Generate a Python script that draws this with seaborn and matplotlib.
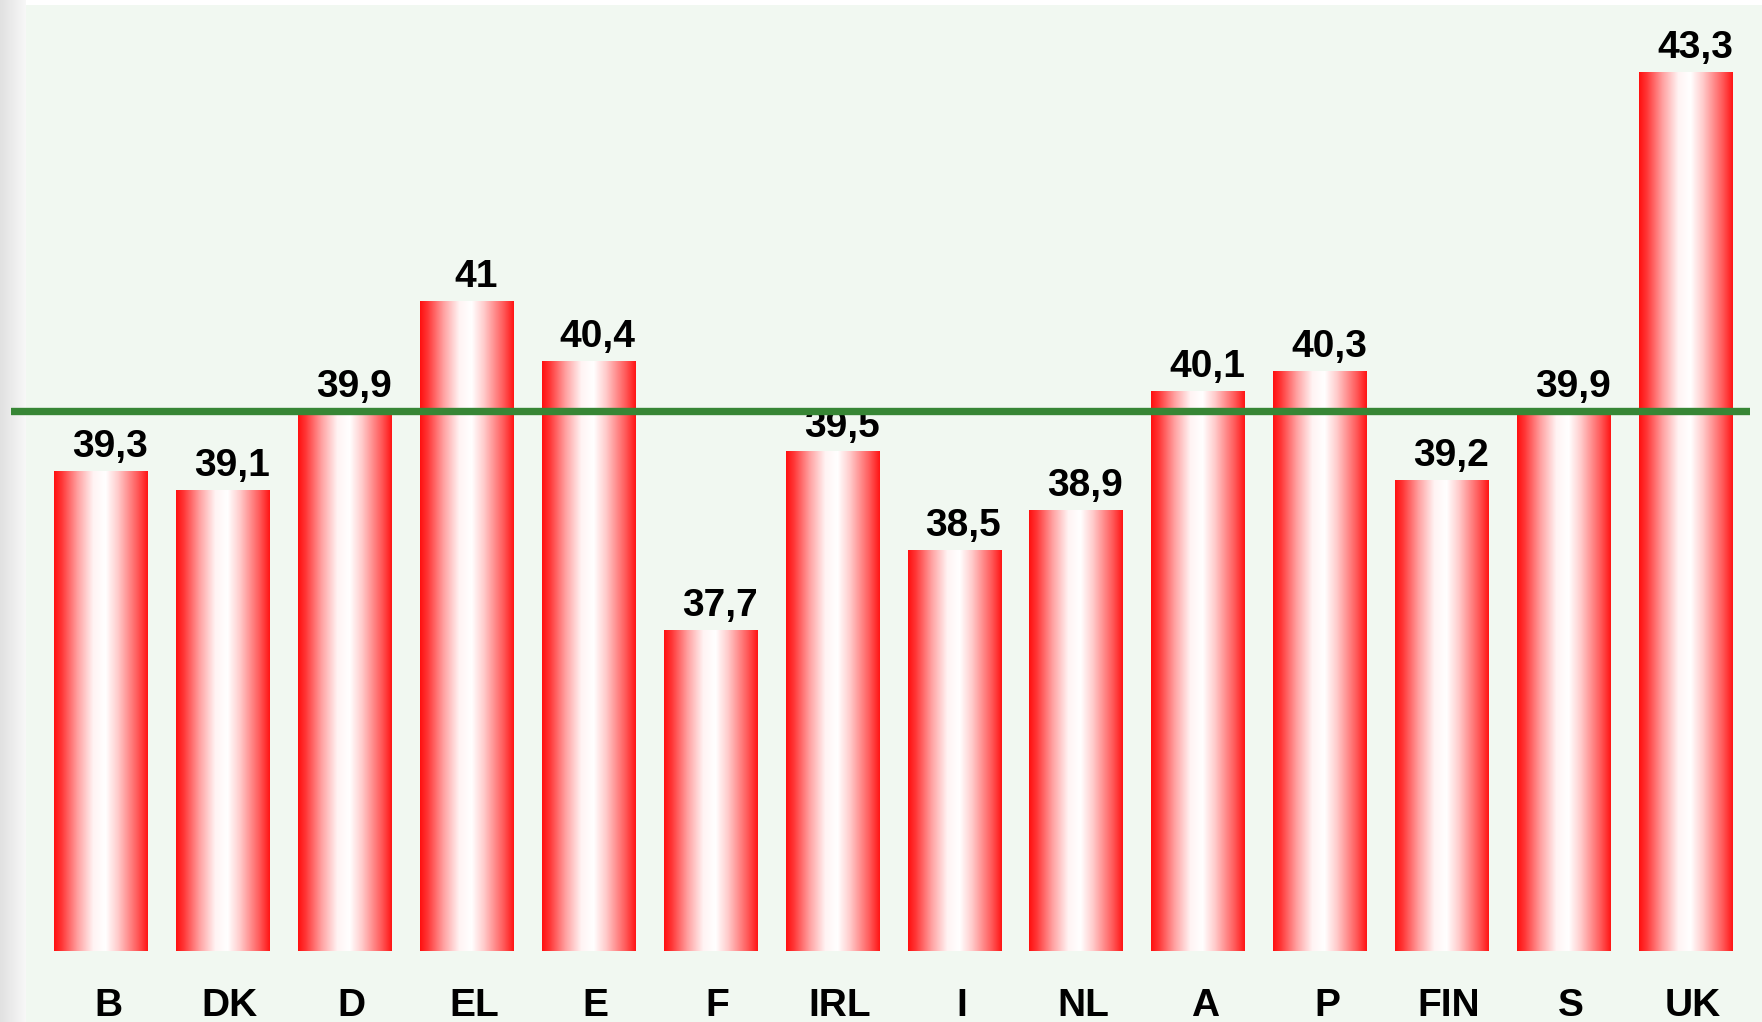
import numpy as np
import pandas as pd
import seaborn as sns
import matplotlib
matplotlib.use("Agg")
import matplotlib.pyplot as plt
from matplotlib.colors import LinearSegmentedColormap
from matplotlib.patches import Rectangle
from matplotlib.transforms import ScaledTranslation

countries = ["B", "DK", "D", "EL", "E", "F", "IRL", "I", "NL", "A", "P", "FIN", "S", "UK"]
hours = [39.3, 39.1, 39.9, 41.0, 40.4, 37.7, 39.5, 38.5, 38.9, 40.1, 40.3, 39.2, 39.9, 43.3]
labels = ["39,3", "39,1", "39,9", "41", "40,4", "37,7", "39,5", "38,5", "38,9", "40,1", "40,3", "39,2", "39,9", "43,3"]
average = 39.9

W, H = 1762, 1022
BG = "#f1f8f1"

sns.set_theme(style="white")
plt.rcParams["font.family"] = ["Liberation Sans", "DejaVu Sans"]

fig = plt.figure(figsize=(W / 100, H / 100), dpi=100, facecolor="white")

# page background + grey strip on the left
fig.patches.append(Rectangle((26 / W, 0), 1 - 26 / W, 1 - 5 / H, transform=fig.transFigure,
                             facecolor=BG, edgecolor="none", zorder=-10))
strip = fig.add_axes([0, 0, 26 / W, 1])
strip.imshow(np.linspace(0.88, 0.97, 64).reshape(1, -1), cmap="gray", vmin=0, vmax=1,
             aspect="auto", extent=[0, 1, 0, 1])
strip.axis("off")

ax = fig.add_axes([11 / W, (H - 951) / H, (1750 - 11) / W, (951 - 5) / H])
ax.set_facecolor("none")

df = pd.DataFrame({"country": countries, "hours": hours})
sns.barplot(data=df, x="country", y="hours", width=0.77, color="red", ax=ax, zorder=2)

cmap = LinearSegmentedColormap.from_list("redwhite", [
    (0.0, "#ff1010"), (0.08, "#ff3535"), (0.25, "#ffa0a0"), (0.42, "#fff4f4"),
    (0.55, "#ffffff"), (0.68, "#ffcccc"), (0.9, "#ff5555"), (1.0, "#ff1515")])
grad = np.linspace(0, 1, 256).reshape(1, -1)

ymin, ymax = 34.48, 43.97
for bar in ax.patches:
    x0, w, h = bar.get_x(), bar.get_width(), bar.get_height()
    bar.set_facecolor("none")
    bar.set_edgecolor("none")
    im = ax.imshow(grad, cmap=cmap, aspect="auto", extent=[x0, x0 + w, ymin, h], zorder=2)
    im.set_clip_path(bar)

for i, (v, lab) in enumerate(zip(hours, labels)):
    ax.annotate(lab, (i, v), xytext=(9 * 0.72, 14 * 0.72), textcoords="offset points",
                ha="center", va="baseline", fontsize=28, fontweight="bold", color="black", zorder=3)

ax.axhline(average, color="#378635", linewidth=5.3, zorder=4)

ax.set_xlim(-0.738, 13.525)
ax.set_ylim(ymin, ymax)
ax.set_xlabel("")
ax.set_ylabel("")
ax.set_yticks([])
ax.tick_params(axis="x", length=0, pad=26.5, labelsize=28)
shift = ScaledTranslation(7 / 100, 0, fig.dpi_scale_trans)
for t in ax.get_xticklabels():
    t.set_fontweight("bold")
    t.set_color("black")
    t.set_transform(t.get_transform() + shift)
for s in ax.spines.values():
    s.set_visible(False)

fig.savefig("out.png", dpi=100, facecolor="white")
